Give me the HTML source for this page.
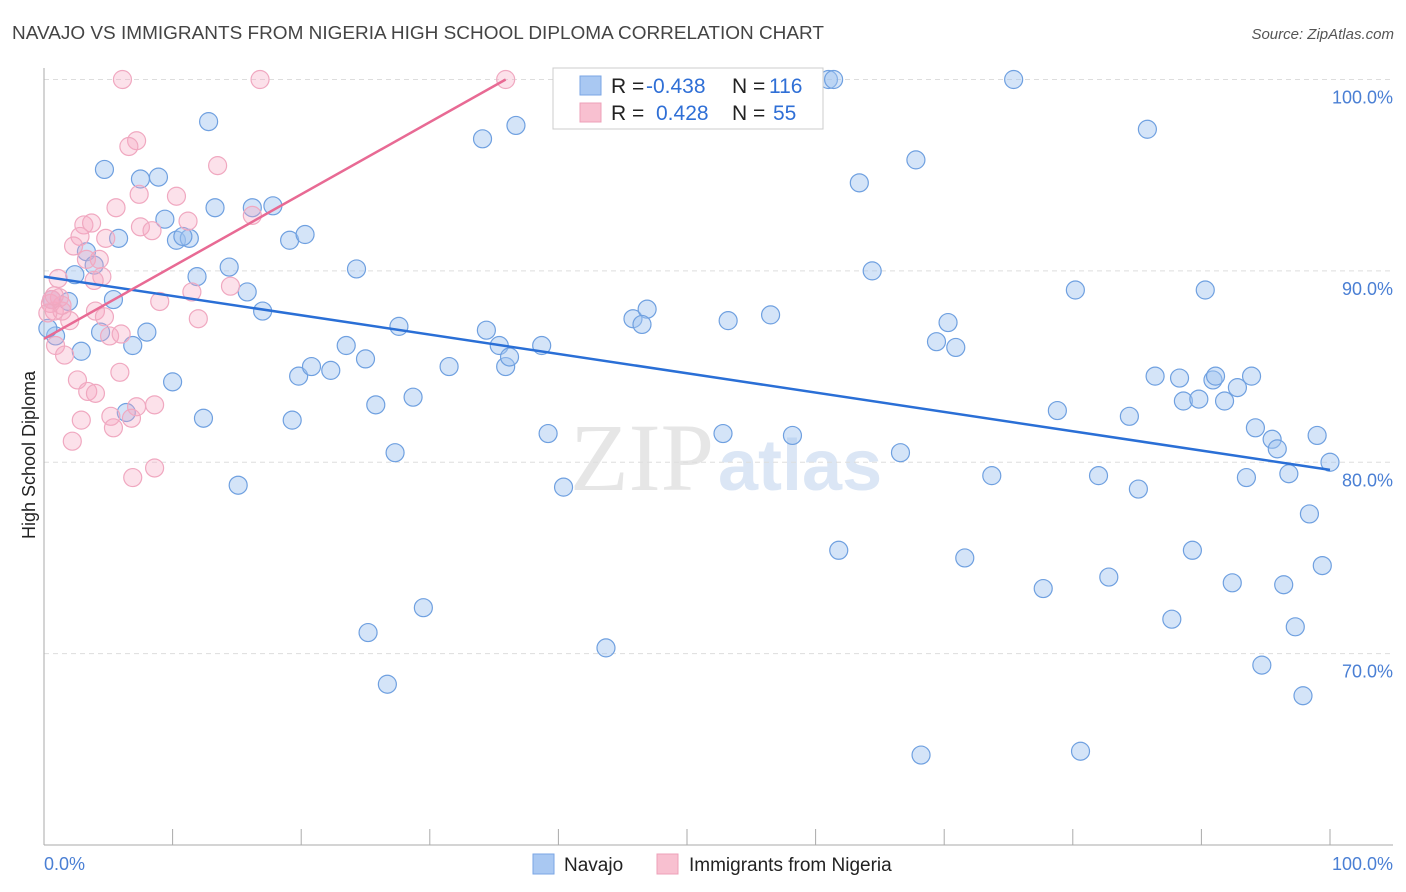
<!DOCTYPE html>
<html><head><meta charset="utf-8"><style>
body{margin:0;background:#fff;font-family:"Liberation Sans",sans-serif;}
svg{display:block}
</style></head><body>
<svg id="chart" width="1406" height="892">
<text x="12" y="39" font-size="18" fill="#444" textLength="812" lengthAdjust="spacingAndGlyphs">NAVAJO VS IMMIGRANTS FROM NIGERIA HIGH SCHOOL DIPLOMA CORRELATION CHART</text>
<text x="1394" y="39" font-size="15" fill="#555" text-anchor="end" font-style="italic">Source: ZipAtlas.com</text>
<text x="35" y="455" font-size="18" fill="#222" text-anchor="middle" transform="rotate(-90 35 455)">High School Diploma</text>
<text x="714" y="490" font-size="96" fill="#e6e6e6" text-anchor="end" font-family="Liberation Serif,serif">ZIP</text>
<text x="718" y="490" font-size="72" fill="#dbe6f5" font-weight="bold">atlas</text>
<g id="grid"></g>
<g id="marks"></g>
<g id="lines"></g>
<g>
<rect x="553" y="68" width="270" height="61" fill="#fff" stroke="#ccc"/>
<rect x="580" y="76" width="21" height="19" fill="#a9c8f2" stroke="#7aa6e4"/>
<rect x="580" y="103" width="21" height="19" fill="#f8c0d0" stroke="#eea0b8"/>
<text x="611" y="93" font-size="21" fill="#222">R = <tspan fill="#2f6fd6" x="646">-0.438</tspan></text>
<text x="732" y="93" font-size="21" fill="#222">N = <tspan fill="#2f6fd6" x="769">116</tspan></text>
<text x="611" y="120" font-size="21" fill="#222">R = <tspan fill="#2f6fd6" x="656">0.428</tspan></text>
<text x="732" y="120" font-size="21" fill="#222">N = <tspan fill="#2f6fd6" x="773">55</tspan></text>
</g>
<g>
<rect x="533" y="854" width="21" height="20" fill="#a9c8f2" stroke="#7aa6e4"/>
<text x="564" y="871" font-size="19" fill="#222">Navajo</text>
<rect x="657" y="854" width="21" height="20" fill="#f8c0d0" stroke="#eea0b8"/>
<text x="689" y="871" font-size="19" fill="#222">Immigrants from Nigeria</text>
</g>
<text x="44" y="870" font-size="18" fill="#4a7fd4">0.0%</text>
<text x="1393" y="870" font-size="18" fill="#4a7fd4" text-anchor="end">100.0%</text>
</svg>
<script>
const yTicks=[100,90,80,70];
const yTickLabels=["100.0%","90.0%","80.0%","70.0%"];
const xTicks=[0,10,20,30,40,50,60,70,80,90,100];
const navajoX=[4.7,7.5,8.9,12.8,9.4,13.3,16.2,17.8,5.8,10.3,11.3,10.8,19.1,20.3,3.3,2.4,3.9,11.9,14.4,24.3,0.6,1.9,5.4,15.8,17.0,0.9,2.9,4.4,6.9,8.0,23.5,25.0,27.6,34.4,35.4,38.7,45.8,46.9,46.5,53.2,56.5,19.8,20.8,22.3,31.5,35.9,36.2,10.0,12.4,19.3,25.8,28.7,27.3,39.2,15.1,40.4,52.8,58.2,66.6,64.4,63.4,67.8,61.0,61.4,52.4,75.4,85.8,34.1,36.7,80.2,90.3,69.4,70.3,70.9,86.4,88.3,88.6,89.8,90.9,91.1,91.8,92.8,93.9,78.8,84.4,94.2,95.5,95.9,99.0,100,73.7,82.0,85.1,93.5,96.8,98.4,61.8,71.6,89.3,77.7,82.8,92.4,96.4,99.4,87.7,97.3,29.5,25.2,43.7,26.7,94.7,97.9,68.2,80.6,6.4,0.3];
const navajoY=[95.3,94.8,94.9,97.8,92.7,93.3,93.3,93.4,91.7,91.6,91.7,91.8,91.6,91.9,91.0,89.8,90.3,89.7,90.2,90.1,88.5,88.4,88.5,88.9,87.9,86.6,85.8,86.8,86.1,86.8,86.1,85.4,87.1,86.9,86.1,86.1,87.5,88.0,87.2,87.4,87.7,84.5,85.0,84.8,85.0,85.0,85.5,84.2,82.3,82.2,83.0,83.4,80.5,81.5,78.8,78.7,81.5,81.4,80.5,90.0,94.6,95.8,100,100,100,100,97.4,96.9,97.6,89.0,89.0,86.3,87.3,86.0,84.5,84.4,83.2,83.3,84.3,84.5,83.2,83.9,84.5,82.7,82.4,81.8,81.2,80.7,81.4,80.0,79.3,79.3,78.6,79.2,79.4,77.3,75.4,75.0,75.4,73.4,74.0,73.7,73.6,74.6,71.8,71.4,72.4,71.1,70.3,68.4,69.4,67.8,64.7,64.9,82.6,87.0];
const nigeriaX=[6.1,7.2,6.6,13.5,5.6,7.4,10.3,3.1,3.7,2.8,2.3,4.8,7.5,8.4,11.2,16.2,3.3,4.3,4.5,3.9,1.1,9.0,11.5,14.5,12.0,0.5,0.8,1.4,2.0,4.0,4.7,0.9,1.6,5.1,6.0,5.9,2.6,3.4,4.0,2.9,5.2,5.4,6.8,7.2,8.6,2.2,6.9,8.6,16.8,35.9,1.2,1.4,0.6,0.8,0.3];
const nigeriaY=[100,96.8,96.5,95.5,93.3,94.0,93.9,92.4,92.5,91.8,91.3,91.7,92.3,92.1,92.6,92.9,90.6,90.6,89.7,89.5,89.6,88.4,88.9,89.2,87.5,88.3,87.9,87.9,87.4,87.9,87.6,86.1,85.6,86.6,86.7,84.7,84.3,83.7,83.6,82.2,82.4,81.8,82.3,82.9,83.0,81.1,79.2,79.7,100,100,88.6,88.2,88.5,88.7,87.8];
const navajoTrend=[[0,89.7],[100,79.6]];
const nigeriaTrend=[[0,86.45],[35.9,100]];

const NS="http://www.w3.org/2000/svg";
const X0=44,X1=1330,YTOP=79.5,YBOT=845;
const xs=v=>X0+(v/100)*(X1-X0);
const ys=v=>YTOP+(100-v)/40*(YBOT-YTOP);
function mk(tag,attrs,parent){const e=document.createElementNS(NS,tag);for(const k in attrs)e.setAttribute(k,attrs[k]);parent.appendChild(e);return e;}
const grid=document.getElementById('grid');
yTicks.forEach((t,i)=>{
  const l=mk('line',{x1:X0,x2:1393,y1:ys(t),y2:ys(t),stroke:'#ddd','stroke-dasharray':'5,4'},grid);
  
  
  const tx=mk('text',{x:1393,y:ys(t)+24,'font-size':18,fill:'#4a7fd4','text-anchor':'end'},grid);
  tx.textContent=yTickLabels[i];
  
  
});
const ax=mk('line',{x1:X0,x2:X0,y1:68,y2:YBOT,stroke:'#aaa'},grid);


const bx=mk('line',{x1:X0,x2:1393,y1:YBOT,y2:YBOT,stroke:'#aaa'},grid);


xTicks.forEach(t=>{
  const l=mk('line',{x1:xs(t),x2:xs(t),y1:YBOT,y2:YBOT-16,stroke:'#aaa'},grid);
  
  
});
const marks=document.getElementById('marks');
navajoX.forEach((v,i)=>{
  const c=mk('circle',{cx:xs(v),cy:ys(navajoY[i]),r:9,fill:'rgba(160,196,240,0.45)',stroke:'#6fa0e0','stroke-width':1.2},marks);
  
  
});
nigeriaX.forEach((v,i)=>{
  const c=mk('circle',{cx:xs(v),cy:ys(nigeriaY[i]),r:9,fill:'rgba(245,170,195,0.35)',stroke:'#f0a8c0','stroke-width':1.2},marks);
  
  
});
const lines=document.getElementById('lines');
const l1=mk('line',{x1:xs(navajoTrend[0][0]),y1:ys(navajoTrend[0][1]),x2:xs(navajoTrend[1][0]),y2:ys(navajoTrend[1][1]),stroke:'#2a6fd6','stroke-width':2.5},lines);


const l2=mk('line',{x1:xs(nigeriaTrend[0][0]),y1:ys(nigeriaTrend[0][1]),x2:xs(nigeriaTrend[1][0]),y2:ys(nigeriaTrend[1][1]),stroke:'#e86a94','stroke-width':2.5},lines);


</script>
</body></html>
